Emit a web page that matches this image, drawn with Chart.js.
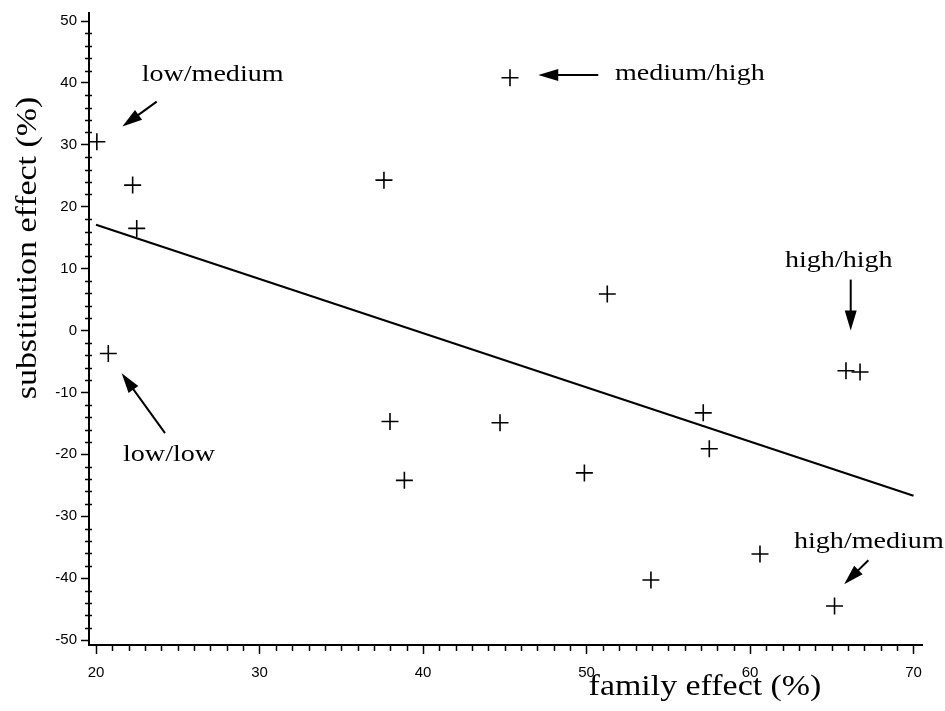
<!DOCTYPE html>
<html>
<head>
<meta charset="utf-8">
<title>family vs substitution effect</title>
<script src="https://cdn.jsdelivr.net/npm/chart.js@4/dist/chart.umd.min.js"></script>
<style>
  html, body { margin: 0; padding: 0; background: #fff; }
  #chart { display: block; }
</style>
</head>
<body>
<canvas id="chart" width="945" height="711"></canvas>
<script>
// data
const familyEffect = [20.05, 22.24, 22.49, 20.75, 37.61, 45.32, 37.98, 38.86, 44.71, 49.87, 51.27, 57.14, 57.51, 53.94, 60.61, 65.17, 65.87, 66.73];
const substitutionEffect = [30.5, 23.5, 16.5, -3.7, 24.3, 40.85, -14.7, -24.2, -14.9, -23.0, 5.9, -13.3, -19.1, -40.3, -36.1, -44.5, -6.5, -6.7];

// regression line end points
const fitX = [20, 70];
const fitY = [17.1, -26.7];

// tick labels
const xTicks = [20, 30, 40, 50, 60, 70];
const yTicks = [-50, -40, -30, -20, -10, 0, 10, 20, 30, 40, 50];

const xTitle = 'family effect (%)';
const yTitle = 'substitution effect (%)';

// labels + arrows (data coords)
const notes = [
  { text: 'low/medium',  x: 22.79, y: 40.32,  from: [23.71, 36.98], to: [21.61, 32.95] },
  { text: 'medium/high', x: 51.74, y: 40.44,  from: [50.72, 41.29], to: [47.05, 41.29] },
  { text: 'high/high',   x: 62.14, y: 10.32,  from: [66.16, 8.23],  to: [66.16, 0] },
  { text: 'low/low',     x: 21.65, y: -21.13, from: [24.22, -16.56], to: [21.57, -6.89] },
  { text: 'high/medium', x: 62.69, y: -35.16, from: [67.24, -37.10], to: [65.76, -40.97] }
];

const serif = '"Liberation Serif", "Times New Roman", serif';
const sans = '"Liberation Sans", Arial, sans-serif';

// stretched text, the scan is a bit wider than tall
function wideText(ctx, text, x, y, stretch) {
  ctx.save();
  ctx.translate(x, y);
  ctx.scale(stretch, 1);
  ctx.fillText(text, 0, 0);
  ctx.restore();
}

function arrow(ctx, x1, y1, x2, y2) {
  const ang = Math.atan2(y2 - y1, x2 - x1);
  const len = 20, half = 6;
  ctx.beginPath();
  ctx.moveTo(x1, y1);
  ctx.lineTo(x2 - Math.cos(ang) * len * 0.8, y2 - Math.sin(ang) * len * 0.8);
  ctx.stroke();
  ctx.beginPath();
  ctx.moveTo(x2, y2);
  ctx.lineTo(x2 - Math.cos(ang) * len - Math.sin(ang) * half, y2 - Math.sin(ang) * len + Math.cos(ang) * half);
  ctx.lineTo(x2 - Math.cos(ang) * len + Math.sin(ang) * half, y2 - Math.sin(ang) * len - Math.cos(ang) * half);
  ctx.closePath();
  ctx.fill();
}

const extras = {
  id: 'extras',
  afterDraw(chart) {
    const ctx = chart.ctx;
    const xs = chart.scales.x, ys = chart.scales.y;
    const area = chart.chartArea;
    ctx.save();
    ctx.strokeStyle = '#000';
    ctx.fillStyle = '#000';

    // minor ticks
    ctx.lineWidth = 1.5;
    ctx.beginPath();
    for (let v = 20; v <= 70; v++) {
      if (v % 10 === 0) continue;
      const px = Math.round(xs.getPixelForValue(v)) + 0.5;
      ctx.moveTo(px, area.bottom);
      ctx.lineTo(px, area.bottom + 6);
    }
    for (let v = -50; v <= 50; v += 2) {
      if (v % 10 === 0) continue;
      const py = Math.round(ys.getPixelForValue(v)) + 0.5;
      ctx.moveTo(area.left - 4, py);
      ctx.lineTo(area.left + 3, py);
    }
    ctx.stroke();

    // axis titles
    ctx.font = '30px ' + serif;
    ctx.textAlign = 'center';
    ctx.textBaseline = 'middle';
    wideText(ctx, xTitle, 705, 687, 1.13);
    ctx.save();
    ctx.translate(28, 248);
    ctx.rotate(-Math.PI / 2);
    wideText(ctx, yTitle, 0, 0, 1.13);
    ctx.restore();

    // annotations
    ctx.font = '24px ' + serif;
    ctx.textAlign = 'left';
    ctx.textBaseline = 'alphabetic';
    ctx.lineWidth = 2;
    notes.forEach(n => {
      wideText(ctx, n.text, xs.getPixelForValue(n.x), ys.getPixelForValue(n.y), 1.17);
      arrow(ctx,
        xs.getPixelForValue(n.from[0]), ys.getPixelForValue(n.from[1]),
        xs.getPixelForValue(n.to[0]), ys.getPixelForValue(n.to[1]));
    });
    ctx.restore();
  }
};

const points = familyEffect.map((x, i) => ({ x: x, y: substitutionEffect[i] }));
const fitLine = fitX.map((x, i) => ({ x: x, y: fitY[i] }));

const ctx = document.getElementById('chart').getContext('2d');
const myChart = new Chart(ctx, {
  type: 'scatter',
  data: {
    datasets: [
      {
        label: 'data',
        data: points,
        pointStyle: 'cross',
        pointRadius: 8.5,
        pointBorderWidth: 1.6,
        borderColor: '#000',
        backgroundColor: '#000'
      },
      {
        type: 'line',
        label: 'fit',
        data: fitLine,
        borderColor: '#000',
        borderWidth: 2,
        pointRadius: 0,
        fill: false
      }
    ]
  },
  options: {
    responsive: false,
    animation: false,
    devicePixelRatio: 1,
    layout: { padding: { top: 12, right: 23, left: 0, bottom: 0 } },
    plugins: {
      legend: { display: false },
      tooltip: { enabled: false }
    },
    scales: {
      x: {
        type: 'linear',
        min: 19.57,
        max: 70.52,
        afterBuildTicks: s => { s.ticks = xTicks.map(v => ({ value: v })); },
        afterFit: s => { s.height = 66; },
        border: { color: '#000', width: 2 },
        grid: { drawOnChartArea: false, tickLength: 9, tickColor: '#000', tickWidth: 1.5 },
        ticks: { color: '#000', font: { family: sans, size: 15 }, padding: 10, maxRotation: 0 }
      },
      y: {
        type: 'linear',
        min: -50.8,
        max: 51.3,
        afterBuildTicks: s => { s.ticks = yTicks.map(v => ({ value: v })); },
        afterFit: s => { s.width = 89; },
        border: { color: '#000', width: 2 },
        grid: { drawOnChartArea: false, tickLength: 8, tickColor: '#000', tickWidth: 1.5 },
        ticks: { color: '#000', font: { family: sans, size: 15 }, padding: 4 }
      }
    }
  },
  plugins: [extras]
});
</script>
</body>
</html>
